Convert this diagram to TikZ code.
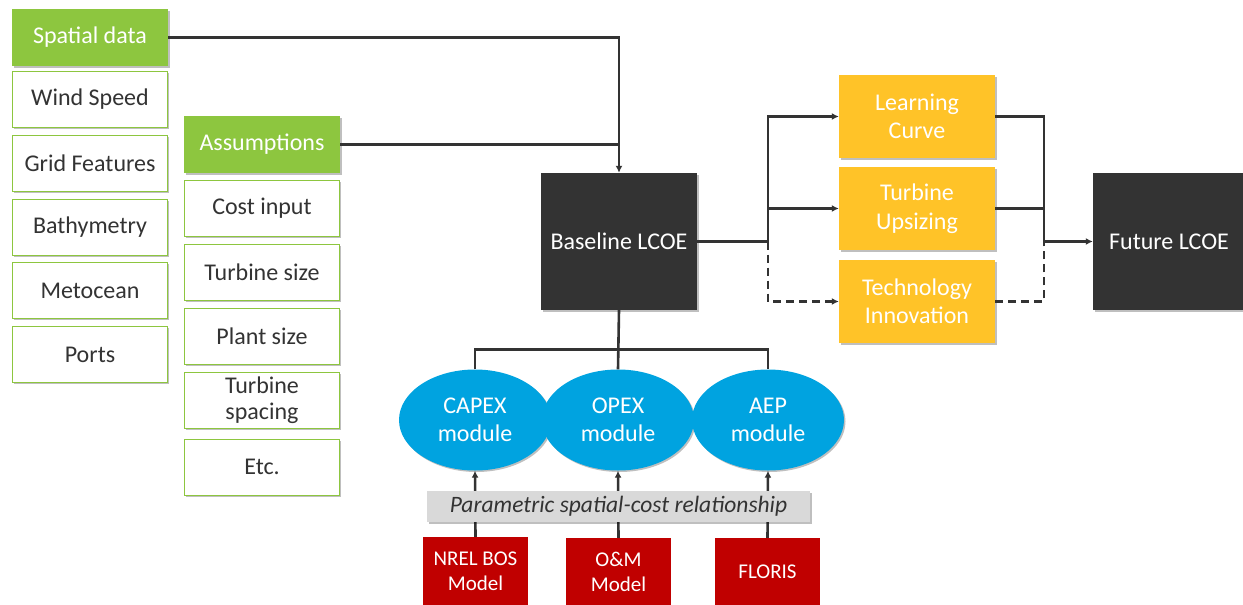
\documentclass[tikz,border=0pt]{standalone}
\usepackage{fontspec}
\setmainfont{Carlito}
\usetikzlibrary{arrows.meta,shapes.geometric,shadows}
\definecolor{grn}{HTML}{8DC63F}
\definecolor{yel}{HTML}{FFC328}
\definecolor{blu}{HTML}{00A3E0}
\definecolor{rd}{HTML}{C00000}
\definecolor{drk}{HTML}{333333}
\definecolor{barg}{HTML}{D9D9D9}
\definecolor{txt}{HTML}{333333}
\tikzset{
  shd/.style={drop shadow={shadow xshift=1.5pt,shadow yshift=-1.5pt,opacity=0.25,fill=black}},
  bigtxt/.style={font=\fontsize{24}{28.5}\selectfont},
  greenhead/.style={shd,fill=grn,text=white,bigtxt,minimum width=156pt,minimum height=57pt,inner sep=0pt},
  whitebox/.style={shd,fill=white,draw=grn,line width=1pt,text=txt,bigtxt,minimum width=155pt,minimum height=56pt,inner sep=0pt,align=center},
  yelbox/.style={shd,fill=yel,text=white,bigtxt,minimum width=156pt,minimum height=83pt,inner sep=0pt,align=center},
  darkbox/.style={shd,fill=drk,text=white,bigtxt,minimum width=156pt,minimum height=137pt,inner sep=0pt,align=center},
  module/.style={ellipse,shd,fill=blu,text=white,bigtxt,minimum width=152pt,minimum height=101pt,inner sep=0pt,align=center},
  redbox/.style={fill=rd,text=white,font=\fontsize{21}{25}\selectfont,minimum width=105pt,minimum height=68pt,inner sep=0pt,align=center},
  barbox/.style={shd,fill=barg,text=txt,font=\fontsize{23.5}{27}\selectfont\itshape,minimum width=383pt,minimum height=31pt,inner sep=0pt},
  conn/.style={draw=drk,line width=2.6pt},
  arr/.style={conn,-{Latex[length=7pt,width=7pt]}},
  dashline/.style={dashed,dash pattern=on 8pt off 5pt}
}
\begin{document}
\begin{tikzpicture}[x=1pt,y=-1pt]
\useasboundingbox (0,0) rectangle (1243,605);
% spatial data column
\node[greenhead] (sd) at (90,37.5) {Spatial data};
\node[whitebox] (ws) at (90,99) {Wind Speed};
\node[whitebox] (gf) at (90,163) {Grid Features};
\node[whitebox] (ba) at (90,227) {Bathymetry};
\node[whitebox] (mo) at (90,290.5) {Metocean};
\node[whitebox] (po) at (90,354.5) {Ports};
% assumptions column
\node[greenhead] (as) at (262,144.5) {Assumptions};
\node[whitebox] (ci) at (262,208) {Cost input};
\node[whitebox] (ts) at (262,272) {Turbine size};
\node[whitebox] (ps) at (262,336) {Plant size};
\node[whitebox] (tsp) at (262,400) {Turbine\\[-3pt]spacing};
\node[whitebox] (etc) at (262,467) {Etc.};
% baseline
\node[darkbox] (bl) at (619,241.5) {Baseline LCOE};
% scenario boxes
\node[yelbox] (lc) at (917,116.5) {Learning\\Curve};
\node[yelbox] (tu) at (917,208.5) {Turbine\\Upsizing};
\node[yelbox] (ti) at (917,301.5) {Technology\\Innovation};
% future
\node[darkbox,minimum width=152pt] (fl) at (1169,241.5) {Future LCOE};
% modules
\node[module] (capex) at (475,420) {CAPEX\\module};
\node[module] (opex) at (618,420) {OPEX\\module};
\node[module] (aep) at (768,420) {AEP\\module};
% red models
\node[redbox] (nrel) at (475.5,571) {NREL BOS\\Model};
\node[redbox] (om) at (618.5,572) {O\&M\\Model};
\node[redbox] (fls) at (767.5,572) {FLORIS};
% connectors top
\draw[arr] (sd.east) -| (bl.north);
\draw[conn] (as.east) -- (as.east -| bl.north);
\coordinate (br) at (768,241.5);
\draw[conn] (bl.east) -- (br);
\draw[arr] (br) |- (lc.west);
\draw[arr] (br) |- (tu.west);
\draw[arr,dashline] (br) |- (ti.west);
\coordinate (mg) at (1044,241.5);
\draw[conn] (lc.east) -| (mg);
\draw[conn] (tu.east) -| (mg);
\draw[conn,dashline] (ti.east) -| (mg);
\draw[arr] (mg) -- (fl.west);
% connectors bottom
\draw[conn] (bl.south) -- (opex.north);
\draw[conn] (capex.north) -- ++(0,-20) -| (aep.north);
\draw[arr] (nrel.north) -- (capex.south);
\draw[arr] (om.north) -- (opex.south);
\draw[arr] (fls.north) -- (aep.south);
\node[barbox] (bar) at (618.5,506.5) {Parametric spatial-cost relationship};
\end{tikzpicture}
\end{document}
